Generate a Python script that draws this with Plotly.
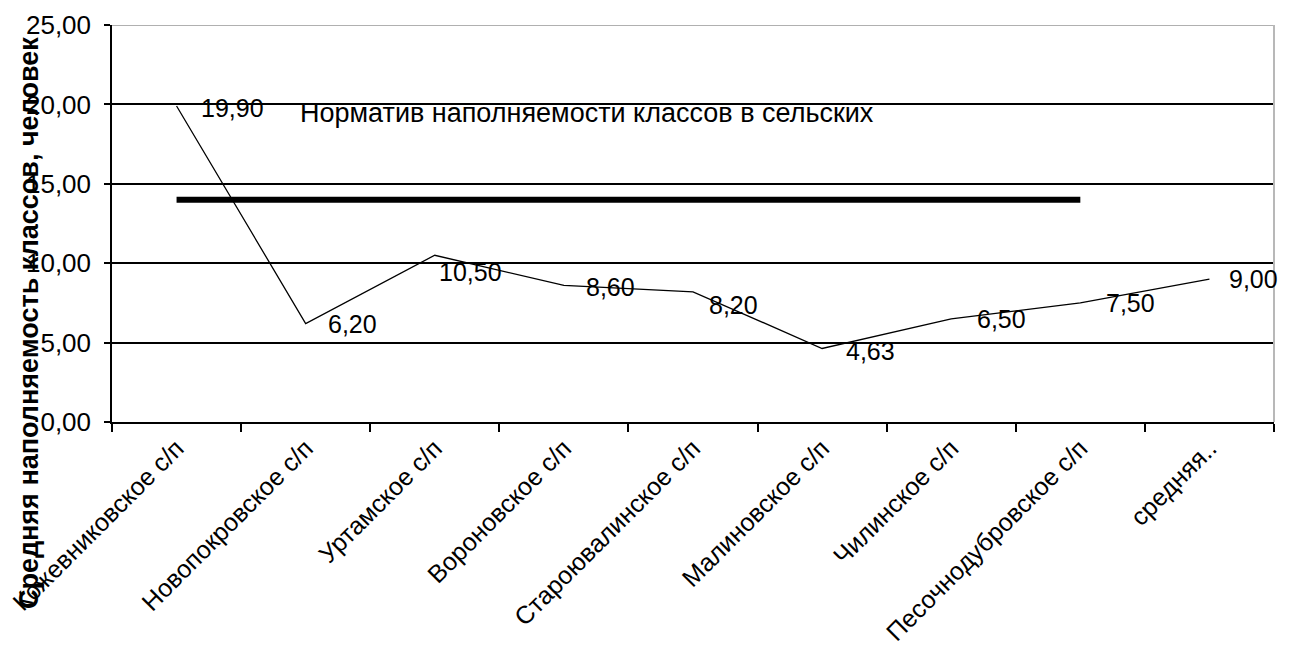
import plotly.graph_objects as go

categories = ["Кожевниковское с/п", "Новопокровское с/п", "Уртамское с/п", "Вороновское с/п",
              "Староювалинское с/п", "Малиновское с/п", "Чилинское с/п", "Песочнодубровское с/п",
              "средняя.."]
values = [19.90, 6.20, 10.50, 8.60, 8.20, 4.63, 6.50, 7.50, 9.00]
norm_categories = categories[:8]
norm_value = 14.0
norm_text = "Норматив наполняемости классов в сельских"
y_title = "Средняя наполняемость классов, человек"
y_ticks = [0, 5, 10, 15, 20, 25]

# label offsets (px) – style only
label_dx = [22, 20, 2, 20, 14, 22, 24, 24, 18]
label_dy = [-2, 0, -17, -2, -13, -3, 0, 0, 0]

FONT = "Liberation Sans, Arial, sans-serif"

fig = go.Figure()
fig.add_trace(go.Scatter(x=categories, y=values, mode="lines",
                         line=dict(color="black", width=1.3), showlegend=False,
                         hoverinfo="skip"))
fig.add_trace(go.Scatter(x=norm_categories, y=[norm_value] * len(norm_categories), mode="lines",
                         line=dict(color="black", width=6), showlegend=False,
                         hoverinfo="skip"))

annotations = []
for c, v, dx, dy in zip(categories, values, label_dx, label_dy):
    annotations.append(dict(x=c, y=v, xref="x", yref="y", text=f"{v:.2f}".replace(".", ","),
                            showarrow=False, xanchor="left", yanchor="middle",
                            xshift=dx, yshift=dy, font=dict(size=25, color="black", family=FONT)))
annotations.append(dict(x=0.16, y=19.45, xref="paper", yref="y", text=norm_text, showarrow=False,
                        xanchor="left", yanchor="middle",
                        font=dict(size=27, color="black", family=FONT)))
annotations.append(dict(x=-0.072, y=0.25, xref="paper", yref="paper", text="<b>" + y_title + "</b>",
                        showarrow=False, textangle=-90, xanchor="center", yanchor="middle",
                        font=dict(size=27, color="black", family=FONT)))

fig.update_layout(
    width=1292, height=651,
    margin=dict(l=104, r=26, t=17, b=237, autoexpand=False),
    paper_bgcolor="white", plot_bgcolor="white",
    separators=", ",
    font=dict(family=FONT, size=25, color="black"),
    annotations=annotations,
    shapes=[
        dict(type="line", xref="paper", yref="y", x0=0, x1=1, y0=25, y1=25,
             line=dict(color="#b0b0b0", width=2), layer="above"),
        dict(type="line", xref="paper", yref="y", x0=1, x1=1, y0=0, y1=25,
             line=dict(color="#b8b8b8", width=2), layer="above"),
    ],
)
fig.update_xaxes(type="category", range=[-0.5, 8.5], tickangle=-45, tickson="boundaries",
                 ticks="outside", ticklen=8, tickcolor="black", tickwidth=1.5,
                 showline=True, linecolor="black", linewidth=1.5, showgrid=False,
                 automargin=False,
                 tickfont=dict(size=25, family=FONT, color="black"))
fig.update_yaxes(range=[0, 25], tickvals=y_ticks, tickformat=".2f",
                 ticks="outside", ticklen=6, tickcolor="black", tickwidth=1.5,
                 ticklabelstandoff=8,
                 showline=True, linecolor="black", linewidth=1.5,
                 showgrid=True, gridcolor="black", gridwidth=1.5, zeroline=False,
                 automargin=False,
                 tickfont=dict(size=26, family=FONT, color="black"))

fig.write_html("out.html")
